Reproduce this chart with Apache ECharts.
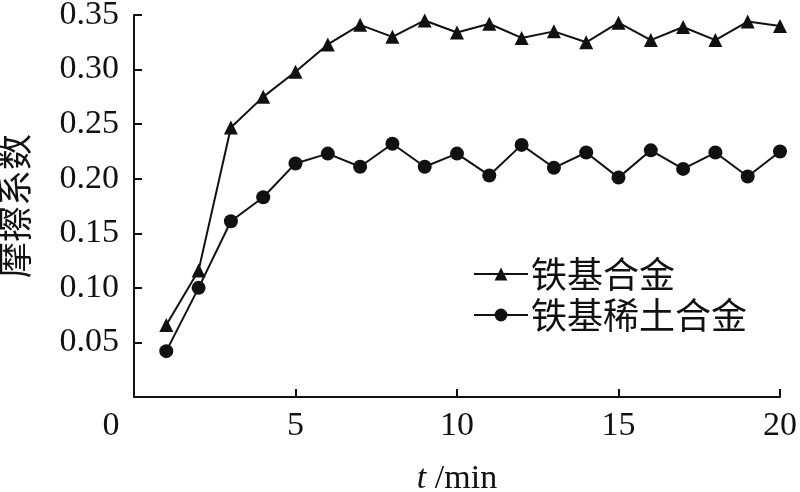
<!DOCTYPE html>
<html>
<head>
<meta charset="utf-8">
<script src="https://cdn.jsdelivr.net/npm/echarts@6/dist/echarts.min.js"></script>
<style>html,body{margin:0;padding:0;background:#fff;}#c{width:800px;height:492px;}</style>
</head>
<body>
<div id="c"></div>
<script>
var timeMin = [1,2,3,4,5,6,7,8,9,10,11,12,13,14,15,16,17,18,19,20];
var ironAlloy = [0.066,0.116,0.247,0.275,0.298,0.323,0.341,0.330,0.345,0.334,0.342,0.329,0.335,0.325,0.343,0.327,0.339,0.327,0.344,0.340];
var ironREAlloy = [0.042,0.100,0.161,0.183,0.214,0.223,0.211,0.232,0.211,0.223,0.203,0.231,0.210,0.224,0.201,0.226,0.209,0.224,0.202,0.225];
var seriesNames = ['铁基合金','铁基稀土合金'];
var xTicks = [0,5,10,15,20];
var yTicks = [0.05,0.10,0.15,0.20,0.25,0.30,0.35];

function pairs(xs, ys){ return xs.map(function(x,i){ return [x, ys[i]]; }); }

var serif = '"Liberation Serif","DejaVu Serif",serif';
var cjk = '"Noto Sans CJK SC","Noto Sans",sans-serif';

var chart = echarts.init(document.getElementById('c'), null, {renderer:'canvas'});
chart.setOption({
  animation:false,
  backgroundColor:'#fff',
  grid:{left:134, right:20, top:15, bottom:95, containLabel:false, outerBoundsMode:'none'},
  legend:{
    orient:'vertical', left:468, top:251,
    itemWidth:54, itemHeight:16, itemGap:5,
    textStyle:{fontFamily:cjk, fontSize:36, color:'#111', lineHeight:36, padding:[0,0,0,-2]},
    data:seriesNames
  },
  xAxis:{
    type:'value', min:0, max:20, interval:5,
    axisLine:{show:true, lineStyle:{color:'#111', width:2}},
    axisTick:{show:true, inside:true, length:8, lineStyle:{color:'#111', width:2}},
    splitLine:{show:false},
    axisLabel:{
      margin:12, color:'#111', fontFamily:serif, fontSize:34,
      formatter:function(v){ return v===0 ? '{o|0}' : String(v); },
      rich:{o:{fontFamily:serif, fontSize:34, color:'#111', padding:[0,46,0,0]}}
    },
    name:'{i|t} /min', nameLocation:'middle', nameGap:65,
    nameTextStyle:{fontFamily:serif, fontSize:34, color:'#111',
      rich:{i:{fontFamily:serif, fontSize:34, fontStyle:'italic', color:'#111'}}}
  },
  yAxis:{
    type:'value', min:0, max:0.35, interval:0.05,
    axisLine:{show:true, lineStyle:{color:'#111', width:2}},
    axisTick:{show:true, inside:true, length:8, lineStyle:{color:'#111', width:2}},
    splitLine:{show:false},
    axisLabel:{
      margin:15, color:'#111', fontFamily:serif, fontSize:34,
      formatter:function(v){ return v===0 ? '' : v.toFixed(2); }
    },
    name:'摩擦系数', nameLocation:'middle', nameGap:102,
    nameTextStyle:{fontFamily:cjk, fontSize:36, color:'#111'}
  },
  series:[
    {name:seriesNames[0], type:'line', data:pairs(timeMin, ironAlloy),
     symbol:'triangle', symbolSize:14,
     lineStyle:{color:'#111', width:2}, itemStyle:{color:'#111'}},
    {name:seriesNames[1], type:'line', data:pairs(timeMin, ironREAlloy),
     symbol:'circle', symbolSize:14,
     lineStyle:{color:'#111', width:2}, itemStyle:{color:'#111'}}
  ]
});
</script>
</body>
</html>
